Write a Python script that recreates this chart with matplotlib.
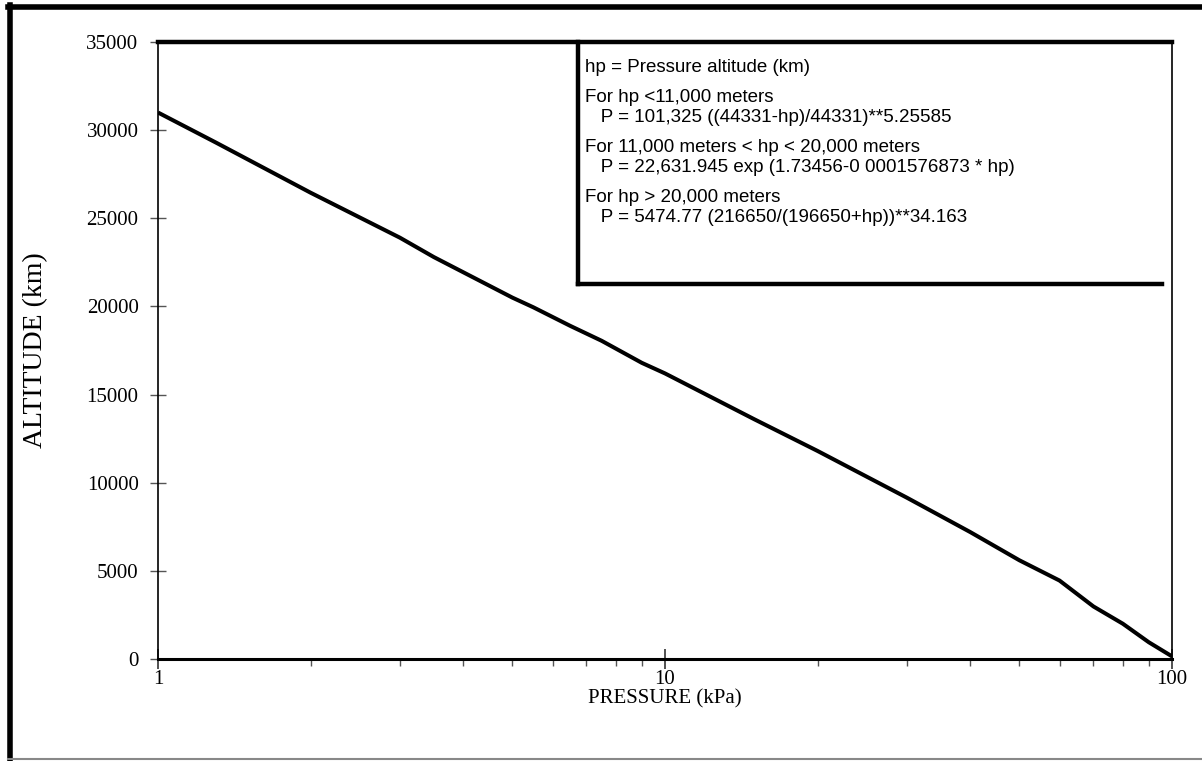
import numpy as np
import matplotlib
matplotlib.use("Agg")
import matplotlib.pyplot as plt
from matplotlib.lines import Line2D
from matplotlib.ticker import FixedLocator, NullFormatter

# Data (pressure in kPa, altitude)
pressure = [1.0, 1.3, 2.0, 3.0, 3.5, 5.0, 5.5, 6.5, 7.5, 9.0, 10.0, 15.0, 20.0,
            30.0, 40.0, 50.0, 60.0, 70.0, 80.0, 90.0, 100.0]
altitude = [31000, 29300, 26450, 23900, 22800, 20500, 19950, 18900, 18050, 16800, 16200, 13600, 11800,
            9150, 7200, 5600, 4450, 2980, 2000, 950, 150]

y_ticks = [0, 5000, 10000, 15000, 20000, 25000, 30000, 35000]
x_ticks = [1, 10, 100]
x_tick_labels = ["1", "10", "100"]

note_lines = [
    "hp = Pressure altitude (km)",
    "For hp <11,000 meters",
    "   P = 101,325 ((44331-hp)/44331)**5.25585",
    "For 11,000 meters < hp < 20,000 meters",
    "   P = 22,631.945 exp (1.73456-0 0001576873 * hp)",
    "For hp > 20,000 meters",
    "   P = 5474.77 (216650/(196650+hp))**34.163",
]
note_y = [68, 98, 118, 148, 168, 198, 218]  # pixel rows of text

W, H = 1202, 761
fig = plt.figure(figsize=(W / 100, H / 100), dpi=100)
left, right, top, bottom = 158, 1172, 42, 659
ax = fig.add_axes([left / W, 1 - bottom / H, (right - left) / W, (bottom - top) / H])

ax.plot(pressure, altitude, color="black", linewidth=2.9, solid_capstyle="butt")

ax.set_xscale("log")
ax.set_xlim(1, 100)
ax.set_ylim(0, 35000)
ax.set_yticks(y_ticks)
ax.set_yticklabels([str(v) for v in y_ticks])
ax.xaxis.set_major_locator(FixedLocator(x_ticks))
ax.set_xticklabels(x_tick_labels)
minor = [m * d for d in (1, 10) for m in range(2, 10)]
ax.xaxis.set_minor_locator(FixedLocator(minor))
ax.xaxis.set_minor_formatter(NullFormatter())

serif = "Liberation Serif"
for lab in ax.get_xticklabels() + ax.get_yticklabels():
    lab.set_fontfamily(serif)
    lab.set_fontsize(15)
ax.tick_params(axis="y", direction="inout", length=12, width=1, color="#555555", pad=8)
ax.tick_params(axis="x", which="major", direction="inout", length=14, width=1.2, color="#333333", pad=1)
ax.tick_params(axis="x", which="minor", direction="out", length=5, width=1, color="#555555")

ax.set_xlabel("PRESSURE (kPa)", fontfamily=serif, fontsize=15)
ax.set_ylabel("ALTITUDE (km)", fontfamily=serif, fontsize=20)
ax.yaxis.set_label_coords(-(left - 48) / (right - left), 0.5)
ax.xaxis.set_label_coords(0.5, -(689 - bottom) / (bottom - top))

ax.spines["left"].set_linewidth(1.2)
ax.spines["right"].set_linewidth(1.2)
ax.spines["top"].set_linewidth(3.2)
ax.spines["bottom"].set_linewidth(2.2)

# note box (left and bottom edges drawn; top coincides with plot top)
bx0 = (578 - left) / (right - left)
bx1 = (1162 - left) / (right - left)
by0 = (bottom - 284) / (bottom - top)
ax.plot([bx0, bx0], [by0, 1.0], color="black", linewidth=3.2, transform=ax.transAxes, clip_on=False)
ax.plot([bx0, bx1], [by0, by0], color="black", linewidth=3.2, transform=ax.transAxes, clip_on=False)
for txt, py in zip(note_lines, note_y):
    ax.text((585 - left) / (right - left), (bottom - py) / (bottom - top), txt,
            transform=ax.transAxes, fontfamily="Liberation Sans", fontsize=13.5,
            ha="left", va="center")

# outer frame
fig.add_artist(Line2D([10 / W, 10 / W], [0, 1 - 5 / H], color="black", linewidth=4))
fig.add_artist(Line2D([8 / W, 1], [1 - 7 / H, 1 - 7 / H], color="black", linewidth=4))
fig.add_artist(Line2D([8 / W, 1], [2 / H, 2 / H], color="#888888", linewidth=1.5))

fig.savefig("out.png", dpi=100)
